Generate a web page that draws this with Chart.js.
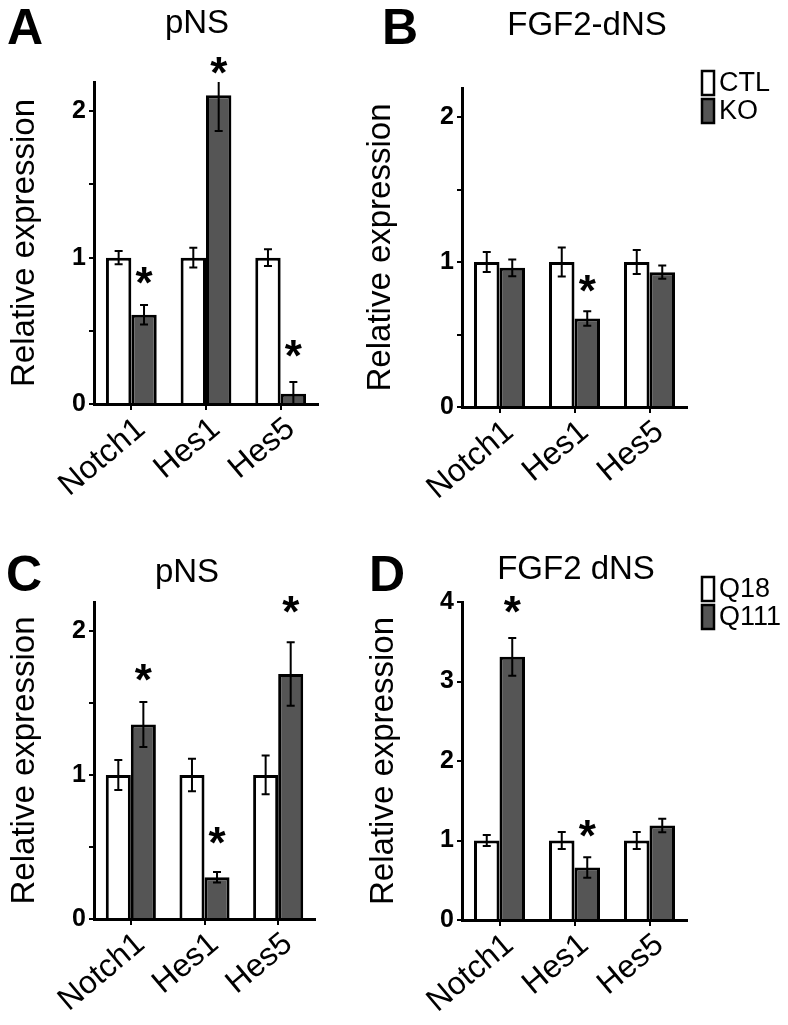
<!DOCTYPE html>
<html>
<head>
<meta charset="utf-8">
<script src="https://cdn.jsdelivr.net/npm/chart.js@4.4.1/dist/chart.umd.min.js"></script>
<style>
  body { margin: 0; background: #fff; width: 788px; height: 1025px; position: relative; overflow: hidden; }
  .panel { position: absolute; }
</style>
</head>
<body>
<div class="panel" style="left:0;top:0"><canvas id="chartA" width="394" height="512"></canvas></div>
<div class="panel" style="left:350px;top:0"><canvas id="chartB" width="438" height="512"></canvas></div>
<div class="panel" style="left:0;top:512px"><canvas id="chartC" width="394" height="513"></canvas></div>
<div class="panel" style="left:350px;top:512px"><canvas id="chartD" width="438" height="513"></canvas></div>
<script>
const categories = ["Notch1", "Hes1", "Hes5"];

// A: pNS (CTL vs KO)
const aCtl = [1, 1, 1];
const aCtlErr = [0.045, 0.068, 0.057];
const aKo = [0.61, 2.11, 0.07];
const aKoErr = [0.066, 0.244, 0.08];
const aStars = [0.88, 2.31, 0.38];

// B: FGF2-dNS (CTL vs KO)
const bCtl = [1, 1, 1];
const bCtlErr = [0.069, 0.1, 0.083];
const bKo = [0.96, 0.61, 0.93];
const bKoErr = [0.058, 0.05, 0.046];
const bStars = [null, 0.85, null];

// C: pNS (Q18 vs Q111)
const cCtl = [1, 1, 1];
const cCtlErr = [0.104, 0.113, 0.134];
const cKo = [1.35, 0.29, 1.7];
const cKoErr = [0.156, 0.037, 0.22];
const cStars = [1.71, 0.58, 2.18];

// D: FGF2 dNS (Q18 vs Q111)
const dCtl = [1, 1, 1];
const dCtlErr = [0.07, 0.106, 0.106];
const dKo = [3.31, 0.66, 1.19];
const dKoErr = [0.237, 0.13, 0.085];
const dStars = [3.97, 1.15, null];

const yTicksAB = [0, 1, 2];
const yTicksD = [0, 1, 2, 3, 4];

const FONT = "'Liberation Sans', Arial, sans-serif";
const DARK = "#555555";

const decor = {
  id: "decor",
  afterDatasetsDraw(chart) {
    const ctx = chart.ctx;
    const y = chart.scales.y;
    ctx.save();
    ctx.strokeStyle = "#000";
    ctx.lineWidth = 2;
    chart.data.datasets.forEach((ds, di) => {
      const meta = chart.getDatasetMeta(di);
      meta.data.forEach((bar, i) => {
        const v = ds.data[i];
        const e = ds.errors[i];
        // error bars are cut off at the top of the axis
        const clipped = v + e > y.max;
        const top = y.getPixelForValue(Math.min(v + e, y.max));
        const bot = y.getPixelForValue(Math.max(v - e, 0));
        ctx.beginPath();
        ctx.moveTo(bar.x, top);
        ctx.lineTo(bar.x, bot);
        if (!clipped) {
          ctx.moveTo(bar.x - 4, top);
          ctx.lineTo(bar.x + 4, top);
        }
        ctx.moveTo(bar.x - 4, bot);
        ctx.lineTo(bar.x + 4, bot);
        ctx.stroke();
        if (ds.stars && ds.stars[i] != null) {
          ctx.fillStyle = "#000";
          ctx.font = "bold 44px " + FONT;
          ctx.textAlign = "center";
          ctx.textBaseline = "alphabetic";
          const m = ctx.measureText("*");
          const shift = (m.actualBoundingBoxAscent - m.actualBoundingBoxDescent) / 2;
          ctx.fillText("*", bar.x, y.getPixelForValue(ds.stars[i]) + shift);
        }
      });
    });
    ctx.restore();
  },
  afterDraw(chart, args, opts) {
    const ctx = chart.ctx;
    ctx.save();
    ctx.fillStyle = "#000";
    ctx.textBaseline = "alphabetic";
    ctx.font = "bold 50px " + FONT;
    ctx.textAlign = "left";
    ctx.fillText(opts.letter, opts.letterX, opts.letterY);
    ctx.font = "33px " + FONT;
    ctx.textAlign = "center";
    ctx.fillText(opts.title, opts.titleX, opts.titleY);
    if (opts.legend) {
      const [lx, ly] = opts.legend;
      chart.data.datasets.forEach((ds, di) => {
        const top = ly + di * 28;
        ctx.fillStyle = ds.backgroundColor;
        ctx.fillRect(lx, top, 12, 24);
        ctx.strokeStyle = "#000";
        ctx.lineWidth = 2.5;
        ctx.strokeRect(lx, top, 12, 24);
        ctx.fillStyle = "#000";
        ctx.font = "27px " + FONT;
        ctx.textAlign = "left";
        ctx.textBaseline = "middle";
        ctx.fillText(ds.label, lx + 17, top + 13);
      });
    }
    ctx.restore();
  }
};

function makePanel(id, labels, ctl, ctlErr, ko, koErr, stars, p) {
  return new Chart(document.getElementById(id), {
    type: "bar",
    data: {
      labels: categories,
      datasets: [
        {
          label: labels[0], data: ctl, errors: ctlErr,
          backgroundColor: "#ffffff", borderColor: "#000", borderWidth: 3,
          categoryPercentage: 0.68, barPercentage: 1.0,
        },
        {
          label: labels[1], data: ko, errors: koErr, stars: stars,
          backgroundColor: DARK, borderColor: "#000", borderWidth: 3,
          categoryPercentage: 0.68, barPercentage: 1.0,
        },
      ],
    },
    options: {
      responsive: false,
      animation: false,
      layout: { padding: { left: 0, top: p.top, right: p.right, bottom: 0 } },
      plugins: {
        legend: { display: false },
        tooltip: { enabled: false },
        decor: p.decor,
      },
      scales: {
        x: {
          afterFit: (s) => { s.height = p.xHeight; },
          grid: { offset: false, drawOnChartArea: false, color: "#000", lineWidth: 2, tickLength: 6 },
          border: { color: "#000", width: 3 },
          ticks: {
            color: "#000", font: { family: FONT, size: 32 },
            minRotation: 40, maxRotation: 40, padding: 0, labelOffset: 10,
          },
        },
        y: {
          min: 0, max: p.max,
          afterFit: (s) => { s.width = p.yWidth; },
          grid: { drawOnChartArea: false, color: "#000", lineWidth: 2, tickLength: 5 },
          border: { color: "#000", width: 3 },
          ticks: {
            stepSize: p.step, includeBounds: false, padding: 3, color: "#000",
            font: { family: FONT, size: 25, weight: "bold" },
            callback: (v) => (p.ticks.includes(v) ? String(v) : ""),
          },
          title: {
            display: true, text: "Relative expression", color: "#000",
            font: { family: FONT, size: 33, lineHeight: 1.2 },
            padding: { top: p.titlePad, bottom: 0 },
          },
        },
      },
    },
    plugins: [decor],
  });
}

makePanel("chartA", ["CTL", "KO"], aCtl, aCtlErr, aKo, aKoErr, aStars, {
  top: 82, right: 76, xHeight: 108, yWidth: 94, max: 2.2, step: 0.5, ticks: yTicksAB, titlePad: 5,
  decor: { letter: "A", letterX: 7, letterY: 44, title: "pNS", titleX: 197, titleY: 33 },
});
makePanel("chartB", ["CTL", "KO"], bCtl, bCtlErr, bKo, bKoErr, bStars, {
  top: 88, right: 101, xHeight: 105, yWidth: 112, max: 2.2, step: 0.5, ticks: yTicksAB, titlePad: 11,
  decor: { letter: "B", letterX: 32, letterY: 44, title: "FGF2-dNS", titleX: 237, titleY: 35, legend: [352, 71] },
});
makePanel("chartC", ["Q18", "Q111"], cCtl, cCtlErr, cKo, cKoErr, cStars, {
  top: 90, right: 79, xHeight: 106, yWidth: 94, max: 2.2, step: 0.5, ticks: yTicksAB, titlePad: 5,
  decor: { letter: "C", letterX: 6, letterY: 79, title: "pNS", titleX: 187, titleY: 70 },
});
makePanel("chartD", ["Q18", "Q111"], dCtl, dCtlErr, dKo, dKoErr, dStars, {
  top: 90, right: 101, xHeight: 105, yWidth: 112, max: 4, step: 1, ticks: yTicksD, titlePad: 14,
  decor: { letter: "D", letterX: 19, letterY: 79, title: "FGF2 dNS", titleX: 226, titleY: 67, legend: [352, 65] },
});
</script>
</body>
</html>
